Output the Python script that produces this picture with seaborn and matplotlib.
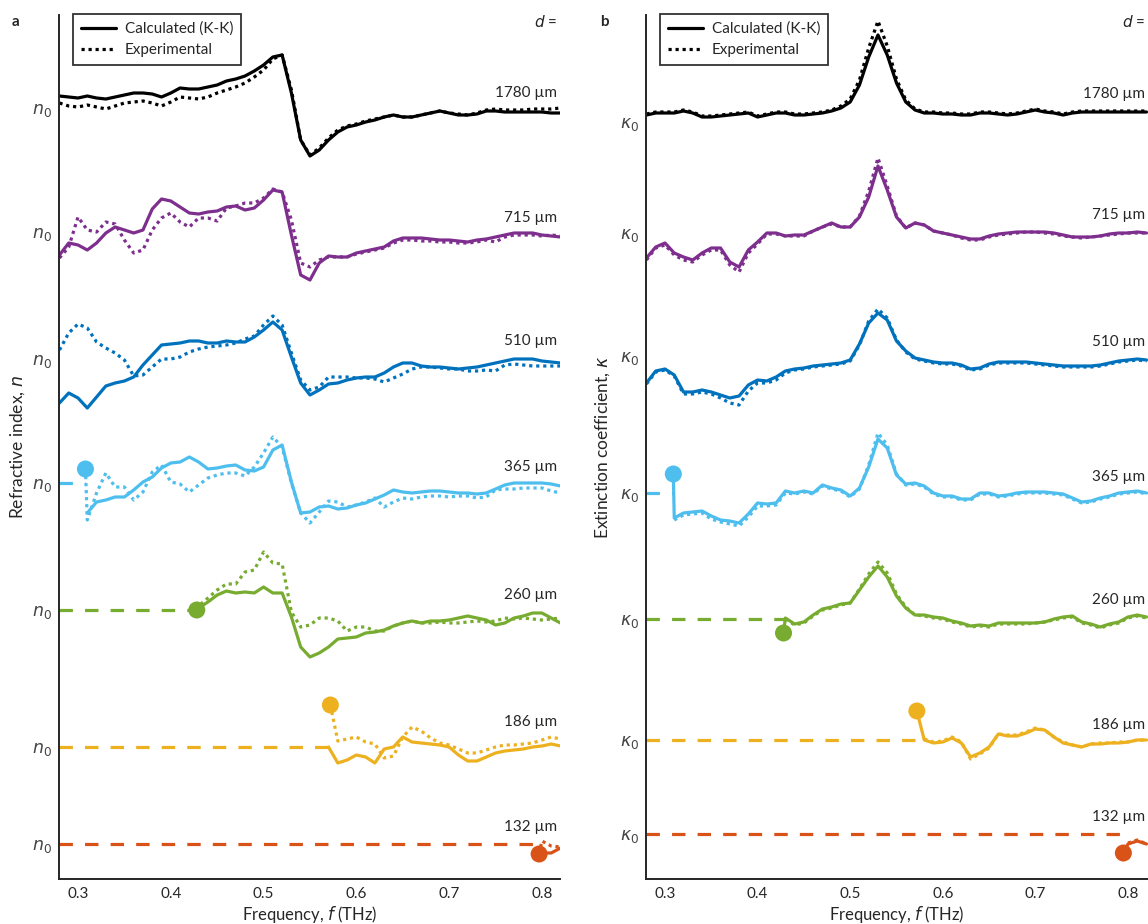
import numpy as np
import pandas as pd
import seaborn as sns
import matplotlib.pyplot as plt
from matplotlib.lines import Line2D

# sampled frequencies (THz)
freq = [0.28, 0.29, 0.30, 0.31, 0.32, 0.33, 0.34, 0.35, 0.36, 0.37, 0.38,
        0.39, 0.40, 0.41, 0.42, 0.43, 0.44, 0.45, 0.46, 0.47, 0.48, 0.49,
        0.50, 0.51, 0.52, 0.53, 0.54, 0.55, 0.56, 0.57, 0.58, 0.59, 0.60,
        0.61, 0.62, 0.63, 0.64, 0.65, 0.66, 0.67, 0.68, 0.69, 0.70, 0.71,
        0.72, 0.73, 0.74, 0.75, 0.76, 0.77, 0.78, 0.79, 0.80, 0.81, 0.82]

thickness = ["1780", "715", "510", "365", "260", "186", "132"]
colors = ["#000000", "#7E2F8E", "#0072BD", "#4DBEEE", "#77AC30", "#EDB120", "#D95319"]

# ---- panel a: refractive index, deviation from n0 (arb. units) ----
n_calc_1780 = [12, 11, 10, 12, 10, 9, 11, 13, 15, 15, 14, 11, 15, 20, 19, 19, 21, 23, 27, 29,
               32, 37, 43, 51, 53, 15, -32, -48, -42, -32, -24, -19, -17, -14, -12, -9, -7, -9,
               -9, -7, -5, -3, -5, -7, -7, -6, -3, -3, -4, -4, -4, -4, -4, -5, -5]
n_exp_1780 = [5, 2, 1, 3, 1, -1, 2, 5, 6, 7, 5, 2, 6, 11, 10, 9, 11, 15, 18, 21,
              25, 31, 38, 49, 53, 18, -32, -47, -40, -30, -22, -18, -16, -13, -11, -9, -7, -9,
              -9, -7, -5, -3, -5, -6, -7, -5, -2, -1, -2, -2, -2, -1, -1, -1, 0]
n_calc_715 = [-23, -11, -13, -18, -11, -1, 5, 2, -1, 2, 23, 33, 31, 25, 19, 18, 20, 21, 25, 26,
              22, 24, 32, 42, 40, -3, -43, -48, -31, -24, -25, -25, -21, -19, -17, -15, -9, -6,
              -6, -6, -7, -8, -8, -9, -10, -8, -7, -5, -3, -1, -1, -1, -3, -4, -5]
n_exp_715 = [-26, -15, 15, 2, 0, 10, 8, -8, -21, -18, 2, 14, 19, 10, 5, 14, 14, 11, 24, 26,
             29, 29, 34, 43, 40, 12, -31, -35, -28, -25, -25, -25, -22, -20, -18, -16, -11, -8,
             -8, -9, -9, -10, -10, -11, -11, -10, -8, -10, -5, -3, -3, -3, -4, -3, -4]
n_calc_510 = [-44, -34, -39, -49, -38, -27, -24, -22, -18, -6, 4, 14, 15, 16, 18, 18, 16, 16, 18, 17,
              17, 22, 29, 37, 29, 2, -24, -36, -31, -25, -24, -21, -19, -18, -18, -14, -8, -4,
              -4, -7, -8, -8, -9, -10, -9, -8, -6, -4, -2, 0, 0, 0, -2, -3, -4]
n_exp_510 = [9, 26, 35, 31, 17, 11, 6, -1, -17, -16, -8, 0, 0, 2, 7, 10, 12, 13, 14, 16,
             20, 23, 34, 43, 34, 6, -21, -31, -28, -18, -18, -18, -19, -19, -20, -23, -19, -15,
             -10, -8, -8, -9, -10, -10, -12, -12, -11, -12, -6, -5, -6, -7, -7, -7, -7]
n_calc_365 = [-30, -19, -17, -14, -14, -7, 1, 6, 15, 20, 21, 26, 21, 14, 15, 17, 18, 13, 12, 16,
              33, 38, 1, -30, -29, -24, -23, -26, -25, -22, -20, -16, -12, -7, -9, -10, -9, -8,
              -8, -9, -10, -10, -11, -10, -6, -2, 0, 0, 0, 0, -1, -3]
n_exp_365 = [-37, -10, 10, -4, -4, -17, -9, 11, 18, 1, -1, -9, -2, 5, 8, 10, 10, 7, 16, 30,
             46, 36, 0, -30, -40, -29, -18, -19, -24, -22, -19, -15, -24, -19, -15, -16, -14, -13,
             -13, -14, -13, -13, -15, -14, -7, -6, -6, -5, -5, -5, -8, -10]
n_calc_260 = [2, 8, 15, 19, 17, 18, 17, 23, 17, 17, -7, -37, -47, -43, -37, -29, -28, -27, -23, -22,
              -20, -16, -13, -11, -13, -11, -11, -10, -8, -6, -8, -10, -15, -13, -8, -6, -3, -3, -8, -13]
n_exp_260 = [4, 12, 20, 26, 26, 38, 40, 58, 47, 46, -2, -17, -15, -8, -8, -11, -21, -17, -17, -21,
             -21, -16, -13, -11, -13, -13, -12, -13, -13, -12, -11, -12, -11, -8, -9, -8, -9, -10, -9, -8]
n_calc_186 = [0, -16, -13, -8, -10, -16, -2, 0, 10, 5, 4, 3, 2, 0, -8, -14, -14, -10, -6, -4,
              -3, -2, 0, 1, 3, 1]
n_exp_186 = [6, 8, 10, 5, 3, -11, -9, 10, 20, 16, 9, 4, 2, -2, -6, -6, -3, 0, 2, 2,
             3, 4, 7, 10, 8]
n_calc_132 = [-9, -9, -4]
n_exp_132 = [3, -2, -3]

n_calc = [n_calc_1780, n_calc_715, n_calc_510, n_calc_365, n_calc_260, n_calc_186, n_calc_132]
n_exp = [n_exp_1780, n_exp_715, n_exp_510, n_exp_365, n_exp_260, n_exp_186, n_exp_132]
n_dot_f = [None, None, None, 0.308, 0.428, 0.572, 0.797]
n_dot_v = [None, None, None, 14, 0, 42, -10]

# ---- panel b: extinction coefficient, deviation from kappa0 (arb. units) ----
k_calc_1780 = [7, 9, 9, 9, 11, 9, 5, 5, 6, 7, 8, 9, 5, 7, 9, 9, 7, 7, 8, 9,
               11, 14, 20, 37, 65, 87, 67, 39, 20, 12, 9, 9, 8, 8, 7, 7, 9, 9,
               8, 7, 8, 10, 12, 10, 9, 7, 9, 10, 10, 10, 10, 10, 10, 10, 10]
k_exp_1780 = [8, 10, 10, 10, 12, 10, 6, 6, 7, 8, 9, 10, 6, 8, 10, 10, 8, 8, 9, 10,
              12, 16, 23, 42, 74, 101, 76, 43, 22, 13, 10, 10, 9, 9, 8, 8, 10, 10,
              9, 8, 9, 11, 13, 11, 10, 8, 10, 11, 11, 11, 11, 11, 11, 11, 11]
k_calc_715 = [-25, -14, -10, -20, -24, -27, -20, -15, -15, -29, -34, -17, -9, 0, 0, -3, -2, -2, 2, 6,
              10, 6, 6, 16, 36, 67, 43, 16, 5, 10, 8, 2, 0, -2, -4, -6, -6, -3,
              -1, 0, 1, 1, 1, 1, 0, -2, -4, -4, -4, -3, -1, 0, 0, 1, 0]
k_exp_715 = [-27, -15, -12, -22, -27, -29, -22, -17, -17, -32, -39, -20, -11, -1, -1, -3, -3, -3, 2, 6,
             9, 6, 6, 17, 42, 75, 47, 17, 5, 10, 8, 2, 0, -2, -5, -7, -7, -4,
             -2, -1, 0, 1, 1, 0, -1, -3, -4, -5, -4, -3, -2, -1, 0, 0, 0]
k_calc_510 = [-27, -15, -13, -19, -36, -36, -34, -36, -39, -42, -40, -29, -24, -25, -21, -15, -13, -12, -10, -9,
              -8, -7, -4, 12, 33, 43, 36, 15, 5, -2, -4, -6, -7, -7, -9, -13, -12, -8,
              -6, -6, -6, -6, -7, -8, -9, -10, -10, -10, -10, -9, -7, -5, -4, -3, -4]
k_exp_510 = [-28, -16, -14, -20, -38, -38, -36, -38, -42, -47, -49, -35, -27, -27, -24, -17, -14, -13, -11, -10,
             -9, -8, -5, 11, 35, 47, 38, 16, 4, -3, -5, -7, -8, -8, -10, -14, -13, -9,
             -7, -7, -7, -7, -8, -9, -10, -11, -11, -11, -11, -10, -8, -6, -5, -4, -5]
k_calc_365 = [-25, -20, -19, -18, -23, -27, -28, -30, -21, -10, -11, -10, 2, 0, 2, 0, 8, 5, 3, -3,
              5, 26, 54, 45, 18, 9, 10, 7, 0, -3, -3, -6, -6, 0, 0, -3, -2, 0,
              1, 1, 1, 0, -1, -5, -9, -8, -5, -3, 0, 1, 2, 0]
k_exp_365 = [-27, -22, -21, -20, -26, -29, -31, -33, -24, -13, -13, -12, 0, -1, 1, -1, 7, 4, 2, -4,
             4, 28, 60, 48, 19, 8, 9, 6, -1, -4, -4, -7, -7, -1, -1, -4, -3, -1,
             0, 0, 0, -1, -2, -6, -10, -9, -6, -4, -1, 0, 1, -1]
k_calc_260 = [1, -5, -3, 4, 10, 12, 15, 16, 29, 42, 53, 42, 23, 11, 4, 4, 2, 1, -2, -4,
              -7, -6, -7, -4, -4, -4, -4, -4, -3, 0, 2, 3, -3, -5, -8, -5, -3, 2, 4, 2]
k_exp_260 = [0, -6, -4, 3, 9, 11, 14, 16, 30, 45, 57, 46, 25, 12, 4, 3, 1, 0, -3, -5,
             -8, -7, -8, -5, -5, -5, -5, -4, -3, -1, 1, 2, -4, -6, -9, -6, -4, 1, 3, 1]
k_calc_186 = [0, -3, -2, 2, -3, -17, -13, -7, 6, 4, 4, 7, 11, 10, 3, -3, -5, -7, -4, -4,
              -3, -3, -2, 0, 0]
k_exp_186 = [1, -2, -1, 3, -2, -19, -14, -8, 6, 5, 5, 8, 12, 10, 3, -2, -5, -7, -4, -3,
             -3, -2, -2, 0, 0]
k_calc_132 = [-10, -7, -10]
k_exp_132 = [-9, -6, -10]

k_calc = [k_calc_1780, k_calc_715, k_calc_510, k_calc_365, k_calc_260, k_calc_186, k_calc_132]
k_exp = [k_exp_1780, k_exp_715, k_exp_510, k_exp_365, k_exp_260, k_exp_186, k_exp_132]
k_dot_f = [None, None, None, 0.309, 0.428, 0.572, 0.795]
k_dot_v = [None, None, None, 19, -14, 29, -19]

# ---- layout ----
n_base = [771, 647, 520, 396, 269, 132, 35]
k_base = [757, 646, 523, 386, 260, 139, 45]
n_label_dy = [15, 14, 18, 16, 15, 25, 17]
k_label_dy = [28, 18, 14, 16, 19, 15, 17]

LW = 2.3
DOTTED = (0, (1, 1.2))
DASHED = (0, (4.2, 3.8))
SPINE = "#262626"

sns.set_theme(style="white")
plt.rcParams["font.family"] = ["Lato", "DejaVu Sans"]

W, H = 1148, 924
fig = plt.figure(figsize=(W / 100, H / 100), dpi=100)
ax_a = fig.add_axes([59 / W, 45 / H, 501 / W, 864 / H])
ax_b = fig.add_axes([646 / W, 45 / H, 502 / W, 864 / H])


def draw_panel(ax, calc, exp, dot_f, dot_v, base, label_dy, xlim, dot_on_calc):
    for i, d in enumerate(thickness):
        col = colors[i]
        xc = freq[len(freq) - len(calc[i]):]
        xe = freq[len(freq) - len(exp[i]):]
        yc = [base[i] + v for v in calc[i]]
        ye = [base[i] + v for v in exp[i]]
        if dot_f[i] is not None:
            sns.lineplot(x=[xlim[0], dot_f[i]], y=[base[i], base[i]], ax=ax, color=col,
                         lw=LW, linestyle=DASHED, estimator=None)
            if dot_on_calc:
                xc = [dot_f[i]] + xc
                yc = [base[i] + dot_v[i]] + yc
            else:
                xe = [dot_f[i]] + xe
                ye = [base[i] + dot_v[i]] + ye
            sns.scatterplot(x=[dot_f[i]], y=[base[i] + dot_v[i]], ax=ax, color=col,
                            s=150, edgecolor="none", zorder=6)
        sns.lineplot(x=xc, y=yc, ax=ax, color=col, lw=LW, estimator=None, sort=False)
        sns.lineplot(x=xe, y=ye, ax=ax, color=col, lw=LW, linestyle=DOTTED,
                     estimator=None, sort=False)
        ax.text(0.995, base[i] + label_dy[i], f"{d} µm", transform=ax.get_yaxis_transform(),
                ha="right", va="center", fontsize=11, color="#262626")

    ax.set_xlim(*xlim)
    ax.set_ylim(0, 864)
    ax.set_xticks([0.3, 0.4, 0.5, 0.6, 0.7, 0.8])
    ax.set_xticklabels(["0.3", "0.4", "0.5", "0.6", "0.7", "0.8"])
    ax.set_yticks(base)
    ax.tick_params(axis="x", direction="in", length=6, width=1.3, pad=6,
                   labelsize=11, color=SPINE, labelcolor="#262626")
    ax.tick_params(axis="y", length=0, pad=5, labelsize=12.5, labelcolor="#454545")
    sns.despine(ax=ax)
    for s in ("left", "bottom"):
        ax.spines[s].set_color(SPINE)
        ax.spines[s].set_linewidth(1.4)
    ax.set_xlabel("Frequency, $f$ (THz)", fontsize=12, color="#262626")
    ax.xaxis.set_label_coords(0.5, -0.029)
    ax.xaxis.label.set_va("top")
    ax.text(0.995, 0.992, "$d$ =", transform=ax.transAxes, ha="right", va="center",
            fontsize=11, color="#262626")
    handles = [Line2D([], [], color="black", lw=LW),
               Line2D([], [], color="black", lw=LW, linestyle=DOTTED)]
    leg = ax.legend(handles, ["Calculated (K-K)", "Experimental"], loc="upper left",
                    bbox_to_anchor=(0.028, 1.001), borderaxespad=0, fontsize=11,
                    frameon=True, fancybox=False, edgecolor="black", handlelength=2.3,
                    handletextpad=0.6, labelspacing=0.45, borderpad=0.5)
    leg.get_frame().set_linewidth(1.3)


draw_panel(ax_a, n_calc, n_exp, n_dot_f, n_dot_v, n_base, n_label_dy,
           (0.2795, 0.8195), dot_on_calc=False)
draw_panel(ax_b, k_calc, k_exp, k_dot_f, k_dot_v, k_base, k_label_dy,
           (0.2795, 0.8216), dot_on_calc=True)

ax_a.set_yticklabels([r"$n_0$"] * 7)
ax_b.set_yticklabels([r"$\kappa_0$"] * 7)
ax_a.set_ylabel("Refractive index, $n$", fontsize=12.5, color="#262626")
ax_b.set_ylabel(r"Extinction coefficient, $\kappa$", fontsize=12.5, color="#262626")
ax_a.yaxis.set_label_coords(-0.064, 0.5)
ax_b.yaxis.set_label_coords(-0.068, 0.5)

fig.text(12 / W, 1 - 22 / H, "a", fontsize=11, fontweight="bold", va="center")
fig.text(600 / W, 1 - 22 / H, "b", fontsize=11, fontweight="bold", va="center")

fig.savefig("out.png", dpi=100)
